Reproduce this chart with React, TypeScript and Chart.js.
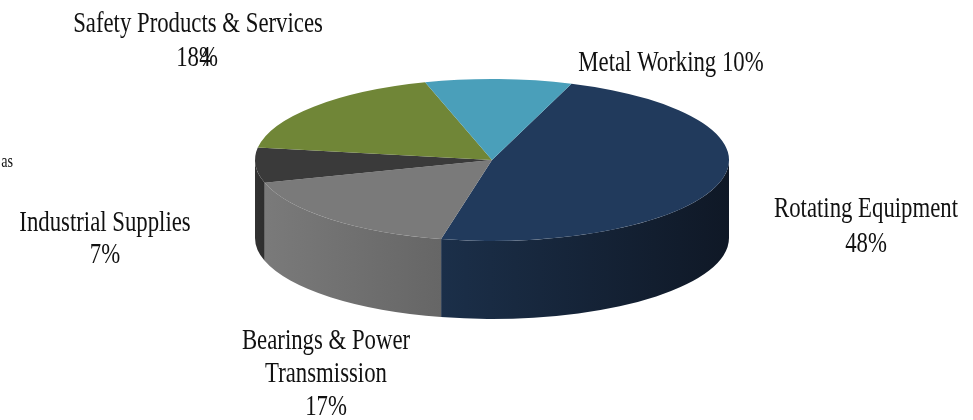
import React, { useEffect, useRef } from "react";
import { Chart, registerables } from "chart.js";

Chart.register(...registerables);

const categories = ["Rotating Equipment", "Bearings & Power Transmission", "Industrial Supplies", "Safety Products & Services", "Metal Working"];
const shares = [48, 17, 7, 18, 10];
const topColours = ["#213A5C", "#7A7A7A", "#3A3A3A", "#708637", "#4A9FBA"];
const wallStart = ["#0F1826", "#666666", "#2E2E2E", "#4F5F27", "#357288"];
const wallEnd = ["#1B2F49", "#7A7A7A", "#333333", "#5A6C2C", "#3B7F98"];

const FONT = '29px "Liberation Serif"';
const SQUEEZE = 0.785;
const SQUASH = 81 / 237;
const DEPTH = 78;

type Label = [string, number, number, string?];
const textRows: Label[] = [
  ["Safety Products & Services", 198, 32],
  ["18%", 197, 66],
  ["Metal Working 10%", 671, 71],
  ["Rotating Equipment", 866, 217],
  ["48%", 866, 252],
  ["Industrial Supplies", 105, 231],
  ["7%", 105, 263],
  ["Bearings & Power", 326, 349],
  ["Transmission", 326, 382],
  ["17%", 326, 415],
];

const pie3d = {
  id: "pie3d",
  beforeDatasetsDraw(chart: any) {
    const ctx = chart.ctx;
    const arcs = chart.getDatasetMeta(0).data;
    ctx.save();
    arcs.forEach((arc: any, i: number) => {
      const rx = arc.outerRadius;
      const ry = rx * SQUASH;
      [0, 2 * Math.PI].forEach((shift) => {
        const from = Math.max(arc.startAngle, shift);
        const to = Math.min(arc.endAngle, shift + Math.PI);
        if (to <= from) return;
        const x0 = arc.x + rx * Math.cos(from);
        const x1 = arc.x + rx * Math.cos(to);
        const g = ctx.createLinearGradient(x0, 0, x1, 0);
        g.addColorStop(0, wallStart[i]);
        g.addColorStop(1, wallEnd[i]);
        ctx.fillStyle = g;
        ctx.beginPath();
        ctx.ellipse(arc.x, arc.y, rx, ry, 0, from, to);
        ctx.ellipse(arc.x, arc.y + DEPTH, rx, ry, 0, to, from, true);
        ctx.closePath();
        ctx.fill();
      });
    });
    ctx.restore();
    const first = arcs[0];
    ctx.save();
    ctx.translate(first.x, first.y);
    ctx.scale(1, SQUASH);
    ctx.translate(-first.x, -first.y);
  },
  afterDatasetsDraw(chart: any) {
    const ctx = chart.ctx;
    ctx.restore();
    ctx.save();
    ctx.fillStyle = "#111111";
    ctx.textAlign = "center";
    ctx.textBaseline = "alphabetic";
    ctx.font = FONT;
    const put = (t: string, x: number, y: number) => {
      ctx.save();
      ctx.translate(x, y);
      ctx.scale(SQUEEZE, 1);
      ctx.fillText(t, 0, 0);
      ctx.restore();
    };
    textRows.forEach(([t, x, y]) => put(t, x, y));
    // overprinted glyph in the source picture
    put("4", 205, 66);
    ctx.font = '18px "Liberation Serif"';
    ctx.textAlign = "right";
    ctx.save();
    ctx.translate(13, 167);
    ctx.scale(SQUEEZE, 1);
    ctx.fillText("as", 0, 0);
    ctx.restore();
    ctx.restore();
  },
};

export default function App() {
  const ref = useRef<HTMLCanvasElement>(null);
  useEffect(() => {
    const chart = new Chart(ref.current as HTMLCanvasElement, {
      type: "pie",
      data: {
        labels: categories,
        datasets: [{ data: shares, backgroundColor: topColours, borderWidth: 0, clip: false } as any],
      },
      options: {
        responsive: false,
        animation: false,
        rotation: 19.6,
        radius: 237,
        layout: { padding: { left: 11, right: 0, top: 0, bottom: 100 } },
        plugins: { legend: { display: false }, tooltip: { enabled: false } },
      } as any,
      plugins: [pie3d],
    });
    return () => chart.destroy();
  }, []);
  return (
    <div style={{ position: "fixed", left: 0, top: 0, width: 973, height: 420, background: "#fff" }}>
      <canvas ref={ref} width={973} height={420} style={{ display: "block" }} />
    </div>
  );
}
